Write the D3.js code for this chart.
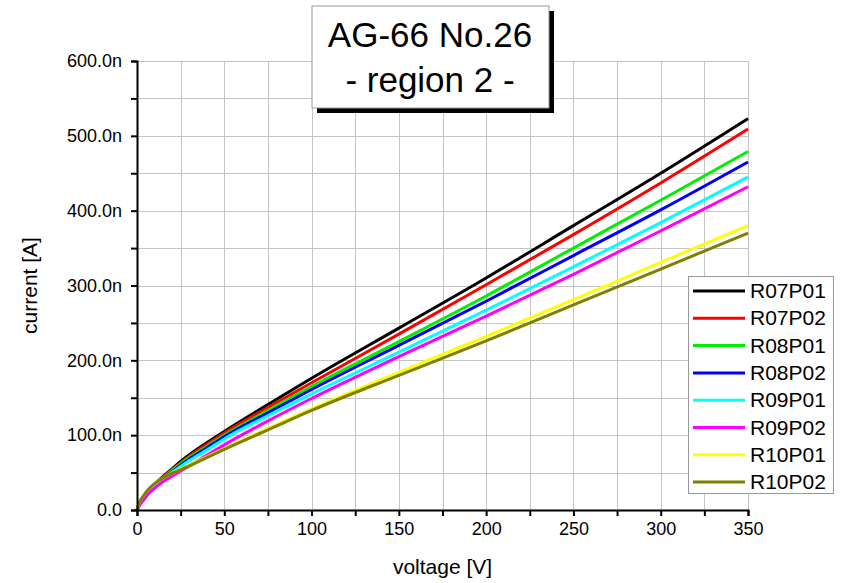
<!DOCTYPE html>
<html>
<head>
<meta charset="utf-8">
<script src="https://cdn.jsdelivr.net/npm/d3@7"></script>
<style>
  body { margin: 0; background: #fff; }
  text { font-family: "Liberation Sans", Arial, sans-serif; fill: #000; }
</style>
</head>
<body>
<div id="chart"></div>
<script>
var svgWidth = 841;
var svgHeight = 583;

var margin = { top: 61, right: 93, bottom: 73, left: 137 };
var width = svgWidth - margin.left - margin.right;
var height = svgHeight - margin.top - margin.bottom;

// voltage sample points [V]
var voltage = [0, 1, 2, 4, 6, 8, 10, 15, 20, 25, 30, 40, 50, 75, 100, 150, 200, 250, 300, 350];

// current [nA]
var R07P01 = [0, 6, 11, 18, 24, 29, 34, 45, 55, 65, 74, 90, 105, 141, 176, 243, 310, 380, 450, 523];
var R07P02 = [0, 6, 10, 17, 23, 28, 33, 44, 54, 63, 72, 88, 103, 137, 170, 235, 301, 368, 437, 509];
var R08P01 = [0, 6, 10, 17, 23, 28, 33, 43, 53, 62, 70, 85, 100, 133, 165, 225, 286, 350, 414, 479];
var R08P02 = [0, 5, 9, 16, 22, 27, 32, 42, 51, 60, 68, 83, 98, 130, 161, 220, 279, 340, 401, 465];
var R09P01 = [0, 5, 9, 16, 22, 27, 31, 41, 50, 58, 66, 80, 95, 126, 155, 211, 267, 325, 384, 445];
var R09P02 = [0, 4, 8, 14, 20, 25, 29, 38, 45, 52, 59, 73, 87, 119, 149, 205, 259, 315, 373, 432];
var R10P01 = [0, 8, 13, 20, 26, 31, 35, 43, 49, 55, 60, 71, 82, 109, 135, 184, 232, 281, 331, 380];
var R10P02 = [0, 8, 13, 20, 26, 31, 35, 43, 49, 54, 59, 70, 81, 107, 133, 180, 226, 274, 322, 370];

var seriesNames = ["R07P01", "R07P02", "R08P01", "R08P02", "R09P01", "R09P02", "R10P01", "R10P02"];
var seriesValues = [R07P01, R07P02, R08P01, R08P02, R09P01, R09P02, R10P01, R10P02];
var seriesColors = ["#000000", "#ff0000", "#00ee00", "#0000ff", "#00ffff", "#ff00ff", "#ffff00", "#808000"];

var xTicks = [0, 50, 100, 150, 200, 250, 300, 350];
var xMinor = [25, 75, 125, 175, 225, 275, 325];
var yTicks = [0, 100, 200, 300, 400, 500, 600];
var yMinor = [50, 150, 250, 350, 450, 550];
var yTickLabels = ["0.0", "100.0n", "200.0n", "300.0n", "400.0n", "500.0n", "600.0n"];

var svg = d3.select("#chart")
  .append("svg")
  .attr("width", svgWidth)
  .attr("height", svgHeight);

var chartGroup = svg.append("g")
  .attr("transform", `translate(${margin.left}, ${margin.top})`);

var x = d3.scaleLinear().domain([0, 350]).range([0, width]);
var y = d3.scaleLinear().domain([0, 600]).range([height, 0]);

// grid
var grid = chartGroup.append("g").attr("stroke", "#c4c4c4").attr("stroke-width", 1);
xTicks.concat(xMinor).filter(d => d > 0).forEach(function(d) {
  grid.append("line")
    .attr("x1", Math.round(x(d)) + 0.5).attr("x2", Math.round(x(d)) + 0.5)
    .attr("y1", 0).attr("y2", height);
});
yTicks.concat(yMinor).filter(d => d > 0).forEach(function(d) {
  grid.append("line")
    .attr("x1", 0).attr("x2", width)
    .attr("y1", Math.round(y(d)) + 0.5).attr("y2", Math.round(y(d)) + 0.5);
});

// curves
var line = d3.line()
  .x((d, i) => x(voltage[i]))
  .y(d => y(d))
  .curve(d3.curveMonotoneX);

seriesValues.forEach(function(vals, i) {
  chartGroup.append("path")
    .datum(vals)
    .attr("fill", "none")
    .attr("stroke", seriesColors[i])
    .attr("stroke-width", 3)
    .attr("d", line);
});

// axes
var bottomAxis = d3.axisBottom(x).tickValues(xTicks).tickSize(6).tickPadding(6).tickFormat(d3.format("d"));
var bottomMinor = d3.axisBottom(x).tickValues(xMinor).tickSize(6).tickFormat("");
var leftAxis = d3.axisLeft(y).tickValues(yTicks).tickSize(6).tickPadding(9)
  .tickFormat((d, i) => yTickLabels[i]);
var leftMinor = d3.axisLeft(y).tickValues(yMinor).tickSize(6).tickFormat("");

function styleAxis(g) {
  g.selectAll("path").attr("stroke", "#000").attr("stroke-width", 2);
  g.selectAll("line").attr("stroke", "#000").attr("stroke-width", 2);
  g.selectAll("text").attr("font-size", "18px").attr("fill", "#000")
    .attr("font-family", "Liberation Sans, Arial, sans-serif");
}

chartGroup.append("g").attr("transform", `translate(0, ${height})`).call(bottomMinor).call(styleAxis)
  .select(".domain").remove();
chartGroup.append("g").call(leftMinor).call(styleAxis).select(".domain").remove();
chartGroup.append("g").attr("transform", `translate(0, ${height})`).call(bottomAxis).call(styleAxis);
chartGroup.append("g").call(leftAxis).call(styleAxis);

// axis labels
chartGroup.append("text")
  .attr("transform", `translate(${-100}, ${height / 2}) rotate(-90)`)
  .attr("text-anchor", "middle")
  .attr("font-size", "21px")
  .text("current [A]");

chartGroup.append("text")
  .attr("x", width / 2)
  .attr("y", height + 64)
  .attr("text-anchor", "middle")
  .attr("font-size", "21px")
  .text("voltage [V]");

// title box
var title = svg.append("g").attr("transform", "translate(312, 6)");
title.append("rect").attr("x", 5).attr("y", 5).attr("width", 237).attr("height", 102).attr("fill", "#000");
title.append("rect").attr("x", 0).attr("y", 0).attr("width", 237).attr("height", 102)
  .attr("fill", "#fff").attr("stroke", "#999").attr("stroke-width", 1);
title.append("text").attr("x", 118).attr("y", 41).attr("text-anchor", "middle")
  .attr("font-size", "35px").text("AG-66 No.26");
title.append("text").attr("x", 118).attr("y", 86).attr("text-anchor", "middle")
  .attr("font-size", "35px").text("- region 2 -");

// legend
var legend = svg.append("g").attr("transform", "translate(688, 276)");
legend.append("rect").attr("x", 0.5).attr("y", 0.5).attr("width", 145).attr("height", 217)
  .attr("fill", "#fff").attr("stroke", "#999").attr("stroke-width", 1);
seriesNames.forEach(function(name, i) {
  var yy = 15 + i * 27.3;
  legend.append("line")
    .attr("x1", 5).attr("x2", 57).attr("y1", yy).attr("y2", yy)
    .attr("stroke", seriesColors[i]).attr("stroke-width", 3);
  legend.append("text")
    .attr("x", 62).attr("y", yy + 7)
    .attr("font-size", "21px")
    .text(name);
});
</script>
</body>
</html>
